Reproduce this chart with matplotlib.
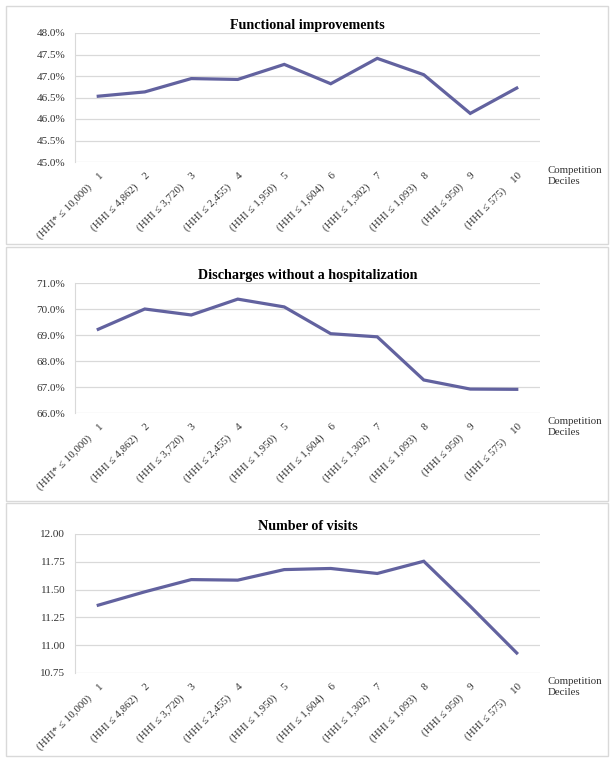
import matplotlib
matplotlib.use("Agg")
import matplotlib.pyplot as plt
from matplotlib.patches import Rectangle
import numpy as np

plt.rcParams['font.family'] = ['Liberation Serif', 'DejaVu Serif']

deciles = ["1", "2", "3", "4", "5", "6", "7", "8", "9", "10"]
hhi_labels = ["(HHI* \u2264 10,000)", "(HHI \u2264 4,862)", "(HHI \u2264 3,720)",
              "(HHI \u2264 2,455)", "(HHI \u2264 1,950)", "(HHI \u2264 1,604)",
              "(HHI \u2264 1,302)", "(HHI \u2264 1,093)", "(HHI \u2264 950)",
              "(HHI \u2264 575)"]

functional = [46.53, 46.63, 46.94, 46.92, 47.27, 46.82, 47.41, 47.03, 46.13, 46.72]
discharges = [69.22, 70.00, 69.77, 70.38, 70.08, 69.05, 68.93, 67.27, 66.92, 66.91]
visits = [11.36, 11.48, 11.59, 11.585, 11.68, 11.69, 11.645, 11.755, 11.35, 10.93]

titles = ["Functional improvements", "Discharges without a hospitalization", "Number of visits"]
series = [functional, discharges, visits]
yticks = [np.arange(45.0, 48.01, 0.5), np.arange(66.0, 71.01, 1.0), np.arange(10.75, 12.01, 0.25)]
yfmt = ["{:.1f}%", "{:.1f}%", "{:.2f}"]

W, H = 615, 763
LINE = '#62629F'
GRID = '#D9D9D9'

# pixel boxes: (panel top, panel bottom, axes top, axes bottom)
panels = [(6, 244, 33, 162), (247, 501, 283, 413), (503, 756, 534, 673)]
ax_left, ax_right = 75, 540

fig = plt.figure(figsize=(W / 100, H / 100), dpi=100)

for i, (pt, pb, at, ab) in enumerate(panels):
    # panel frame
    fig.patches.append(Rectangle((6 / W, 1 - pb / H), (608 - 6) / W, (pb - pt) / H,
                                 transform=fig.transFigure, fill=False,
                                 edgecolor=GRID, linewidth=1.0))
    ax = fig.add_axes([ax_left / W, 1 - ab / H, (ax_right - ax_left) / W, (ab - at) / H])
    x = np.arange(len(deciles))
    ax.plot(x, series[i], color=LINE, linewidth=2.3, solid_joinstyle='miter')
    ax.set_xlim(-0.5, len(deciles) - 0.5)
    ax.set_ylim(yticks[i][0], yticks[i][-1])
    ax.set_yticks(yticks[i])
    ax.set_yticklabels([yfmt[i].format(v) for v in yticks[i]], fontsize=8, color='#333333')
    ax.grid(axis='y', color=GRID, linewidth=0.9)
    ax.set_axisbelow(True)
    for s in ['top', 'right', 'bottom']:
        ax.spines[s].set_visible(False)
    ax.spines['left'].set_color(GRID)
    ax.tick_params(axis='both', length=0)
    ax.tick_params(axis='y', pad=7)
    ax.set_xticks(x)
    ax.set_xticklabels([f"{h}    {d}" for h, d in zip(hhi_labels, deciles)],
                       rotation=45, ha='right', va='top', rotation_mode='anchor',
                       fontsize=7.8, color='#333333')
    ax.tick_params(axis='x', pad=6)
    ax.set_title(titles[i], fontsize=10.2, fontweight='bold', pad=3)
    fig.text(548 / W, 1 - (ab + 4) / H, "Competition\nDeciles", fontsize=7.8,
             color='#333333', ha='left', va='top', linespacing=1.3)

fig.savefig("out.png", dpi=100)
